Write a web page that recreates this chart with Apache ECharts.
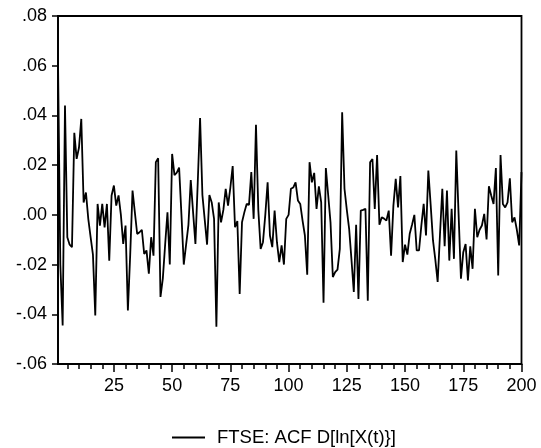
<!DOCTYPE html>
<html>
<head>
<meta charset="utf-8">
<script src="https://cdn.jsdelivr.net/npm/echarts@6/dist/echarts.min.js"></script>
<style>
html,body{margin:0;padding:0;background:#fff;}
#chart{width:541px;height:448px;}
</style>
</head>
<body>
<div id="chart"></div>
<script>
// Lags 1..200
const lags = Array.from({length: 200}, (_, i) => String(i + 1));

// ACF values (lags 1..200)
const acf1to50 = [
  0.062, -0.020, -0.0445, 0.044, -0.009, -0.012, -0.013, 0.033, 0.0225, 0.027,
  0.0386, 0.005, 0.009, -0.0016, -0.009, -0.016, -0.0405, 0.0044, -0.0043, 0.0044,
  -0.005, 0.0044, -0.0184, 0.0078, 0.0118, 0.0037, 0.0078, 0.000, -0.0117, -0.0043,
  -0.0385, -0.016, 0.0098, 0.001, -0.0077, -0.007, -0.006, -0.0157, -0.0143, -0.0237,
  -0.009, -0.0164, 0.0212, 0.0228, -0.033, -0.0257, -0.012, 0.001, -0.020, 0.0245
];
const acf51to100 = [
  0.016, 0.017, 0.019, 0.000, -0.020, -0.012, -0.004, 0.014, 0.001, -0.0117,
  0.013, 0.039, 0.008, -0.002, -0.012, 0.008, 0.005, -0.0016, -0.045, 0.005,
  -0.003, 0.002, 0.0105, 0.0037, 0.011, 0.0196, -0.005, -0.0025, -0.0318, -0.003,
  0.001, 0.0044, 0.004, 0.0172, -0.0016, 0.0362, 0.002, -0.0137, -0.011, 0.000,
  0.0131, -0.0083, -0.013, 0.0017, -0.011, -0.019, -0.0123, -0.020, -0.0016, 0.000
];
const acf101to150 = [
  0.0105, 0.011, 0.0131, 0.0058, 0.0044, -0.0023, -0.0083, -0.0241, 0.0212, 0.0131,
  0.0169, 0.0024, 0.0115, 0.005, -0.0354, 0.0188, 0.008, -0.003, -0.025, -0.023,
  -0.022, -0.0137, 0.0413, 0.0105, 0.002, -0.0056, -0.018, -0.031, -0.004, -0.0338,
  0.0017, 0.002, 0.0024, -0.0345, 0.0212, 0.0225, 0.0024, 0.0241, -0.004, -0.001,
  -0.0015, -0.0023, 0.0017, -0.0164, 0.0037, 0.0145, 0.003, 0.0156, -0.019, -0.012
];
const acf151to200 = [
  -0.016, -0.0076, -0.004, 0.000, -0.0143, -0.0143, -0.0043, 0.0044, -0.0083, 0.0178,
  0.004, -0.0103, -0.018, -0.027, -0.008, 0.0105, -0.0126, 0.0098, -0.0184, 0.0024,
  -0.0177, 0.0259, 0.000, -0.0257, -0.015, -0.0117, -0.0264, -0.0127, -0.0217, 0.0024,
  -0.009, -0.006, -0.0043, 0.0004, -0.0099, 0.0115, 0.0078, 0.0044, 0.0188, -0.0244,
  0.0241, 0.0044, 0.003, 0.005, 0.0147, -0.003, -0.001, -0.006, -0.0123, 0.0172
];
const acfValues = acf1to50.concat(acf51to100, acf101to150, acf151to200);

const seriesName = 'FTSE: ACF D[ln[X(t)}]';
const yMin = -0.06, yMax = 0.08, yStep = 0.02;
const xLabelStep = 25, xMinorStep = 5;

const FONT = "'Liberation Sans', Arial, sans-serif";

function fmtY(v) {
  if (Math.abs(v) < 1e-9) return '.00';
  const s = Math.abs(v).toFixed(2).replace(/^0/, '');
  return (v < 0 ? '-' : '') + s;
}

const chart = echarts.init(document.getElementById('chart'), null, {renderer: 'canvas'});
chart.setOption({
  backgroundColor: '#ffffff',
  animation: false,
  grid: {
    left: 58, right: 19.5, top: 16, bottom: 84,
    show: true, borderColor: '#000', borderWidth: 1.8, backgroundColor: 'transparent'
  },
  legend: {
    data: [seriesName],
    left: 167, top: 423,
    itemWidth: 33, itemHeight: 14,
    icon: 'path://M0,6.2 L33,6.2 L33,8 L0,8 Z',
    itemStyle: {color: '#000'},
    textStyle: {fontFamily: FONT, fontSize: 18.5, color: '#000', padding: [2, 0, 0, 7]}
  },
  xAxis: [
    {
      type: 'category', data: lags, boundaryGap: false,
      axisLine: {show: true, onZero: false, lineStyle: {color: '#000', width: 1.8}},
      axisTick: {show: true, inside: false, length: 5, lineStyle: {color: '#000', width: 1.5},
        interval: function (idx, val) { return (+val) % xMinorStep === 0; }},
      axisLabel: {show: false},
      splitLine: {show: false}
    },
    {
      type: 'category', data: lags, boundaryGap: false, position: 'bottom',
      axisLine: {show: false, onZero: false},
      axisTick: {show: true, inside: false, length: 8, lineStyle: {color: '#000', width: 1.5},
        interval: function (idx, val) { return (+val) % xLabelStep === 0; }},
      axisLabel: {show: true, margin: 13, fontFamily: FONT, fontSize: 18, color: '#000',
        interval: function (idx, val) { return (+val) % xLabelStep === 0; }},
      splitLine: {show: false}
    }
  ],
  yAxis: {
    type: 'value', min: yMin, max: yMax, interval: yStep,
    axisLine: {show: true, lineStyle: {color: '#000', width: 1.8}},
    axisTick: {show: true, inside: false, length: 6, lineStyle: {color: '#000', width: 1.5}},
    axisLabel: {margin: 11, fontFamily: FONT, fontSize: 18, color: '#000', formatter: fmtY},
    splitLine: {show: false}
  },
  series: [{
    name: seriesName,
    type: 'line',
    xAxisIndex: 0,
    data: acfValues,
    symbol: 'none',
    lineStyle: {color: '#000', width: 1.8},
    itemStyle: {color: '#000'}
  }]
});
</script>
</body>
</html>
